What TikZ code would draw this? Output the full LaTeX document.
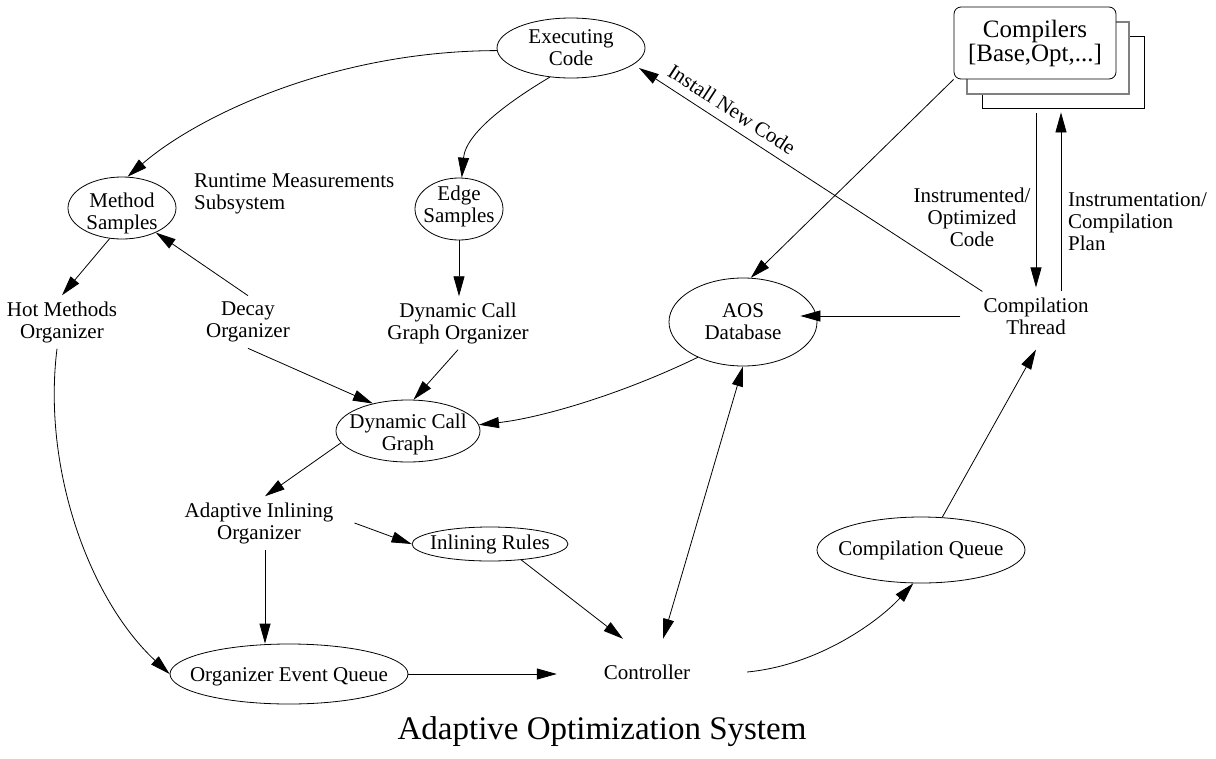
\documentclass[tikz,border=0pt]{standalone}
\usepackage{fontspec}
\setmainfont{Liberation Serif}
\usetikzlibrary{shapes.geometric,arrows.meta}
\begin{document}
\begin{tikzpicture}[x=1pt,y=-1pt,
  every node/.style={font=\fontsize{21}{22}\selectfont},
  ell/.style={draw, ellipse, inner sep=0pt, line width=0.8pt},
  txt/.style={align=center, inner sep=6pt},
  arr/.style={line width=0.8pt, -{Triangle[length=20pt,width=11pt]}},
  arrboth/.style={line width=0.8pt, {Triangle[length=20pt,width=11pt]}-{Triangle[length=20pt,width=11pt]}},
  stackbox/.style={draw, fill=white, line width=0.8pt, minimum width=162pt, minimum height=72pt, inner sep=0pt}
  ]
\useasboundingbox (0,0) rectangle (1216,758);

% ellipses
\node[ell, minimum width=148pt, minimum height=60pt, label={[align=center]center:Executing\\Code}] (exec) at (571,48) {};
\node[ell, minimum width=108pt, minimum height=62pt, label={[align=center,yshift=-5pt]center:Method\\Samples}] (ms) at (122,208) {};
\node[ell, minimum width=88pt, minimum height=62pt, label={[align=center,yshift=3pt]center:Edge\\Samples}] (es) at (459,209) {};
\node[ell, minimum width=144pt, minimum height=62pt, label={[align=center,yshift=-3pt]center:Dynamic Call\\Graph}] (dcg) at (408,431) {};
\node[ell, minimum width=148pt, minimum height=88pt, label={[align=center]center:AOS\\Database}] (aos) at (743,322) {};
\node[ell, minimum width=156pt, minimum height=34pt, label={center:Inlining Rules}] (ir) at (490,544) {};
\node[ell, minimum width=238pt, minimum height=60pt, label={[yshift=-3pt]center:Organizer Event Queue}] (oeq) at (289,674) {};
\node[ell, minimum width=208pt, minimum height=66pt, label={center:Compilation Queue}] (cq) at (921,550) {};
\node[inner sep=0pt, minimum width=190pt, minimum height=66pt, label={[xshift=-5pt]center:Controller}] (ctrl) at (652,672) {};

% compilers stack
\node[stackbox] (comp3) at (1063,72) {};
\node[stackbox, draw=gray, line width=1.2pt] (comp2) at (1048,58) {};
\node[stackbox, rounded corners=7pt, align=center, font=\fontsize{25}{24}\selectfont] (comp) at (1035,43) {Compilers\\{}[Base,Opt,...]};

% text nodes
\node[txt] (hmo) at (62,322) {Hot Methods\\Organizer};
\node[txt] (dco) at (248,322) {Decay\\Organizer};
\node[txt] (dcgo) at (458,323) {Dynamic Call\\Graph Organizer};
\node[txt] (aio) at (259,523) {Adaptive Inlining\\Organizer};
\node[txt] (ct) at (1036,316) {Compilation\\Thread};
\node[txt, anchor=west, align=left] (rms) at (188,194) {Runtime Measurements\\Subsystem};
\node[txt] (ioc) at (972,217) {Instrumented/\\Optimized\\Code};
\node[txt, anchor=west, align=left] (icp) at (1062,222) {Instrumentation/\\Compilation\\Plan};
\node[font=\fontsize{33}{36}\selectfont, inner sep=0pt] (title) at (602,732) {Adaptive Optimization System};

% connectors
\draw[arr] (exec.182) .. controls (330,51) and (195,118) .. (ms.80);
\draw[arr] (exec.234) .. controls (520,95) and (466,130) .. (es.85);
\draw[arr] (es.south) -- (es.south |- dcgo.north);
\draw[arr] (ms.248) -- (hmo.north);
\draw[arr] (dco.north) -- (ms.-36);
\draw[arr] ([xshift=-5pt]hmo.south) .. controls (42,470) and (90,600) .. (oeq.west);
\draw[arr] (dco.south) -- (dcg.142);
\draw[arr] (dcgo.south) -- (dcg.80);
\draw[arr] (aos.218) .. controls (620,395) and (540,418) .. (dcg.5);
\draw[arr] (dcg.190) -- ([xshift=6pt]aio.north);
\draw[arr] ([xshift=6pt]aio.south) -- ([xshift=6pt]aio.south |- oeq.north);
\draw[arr] ([xshift=15pt]aio.east) -- (ir.west);
\draw[arr] (ir.-27) -- ([xshift=-29pt]ctrl.north);
\draw[arr] (oeq.east) -- (oeq.east -| ctrl.west);
\draw[arr] (ctrl.east) .. controls (820,665) and (880,620) .. (cq.257);
\draw[arrboth] (aos.south) -- ([xshift=11pt]ctrl.north);
\draw[arr] (cq.57) -- ([yshift=-9pt]ct.south);
\draw[arr] ([xshift=-17pt]ct.west) -- ([xshift=-17pt]ct.west -| aos.east);
\draw[arr] (comp.south west) -- (aos.80);
\draw[arr, shorten >=4pt] ([xshift=-27pt,yshift=-5pt]comp3.south) -- ([xshift=-27pt]comp3.south |- ct.north);
\draw[arr, shorten >=4pt] ([xshift=-2pt]comp3.south |- ct.north) -- ([xshift=-2pt]comp3.south);
\draw[arr] ([xshift=5pt]ct.north west) -- ([xshift=68pt,yshift=-20pt]exec.center)
  node[pos=0.755, sloped, above=5pt] (inc) {Install New Code};
\end{tikzpicture}
\end{document}
